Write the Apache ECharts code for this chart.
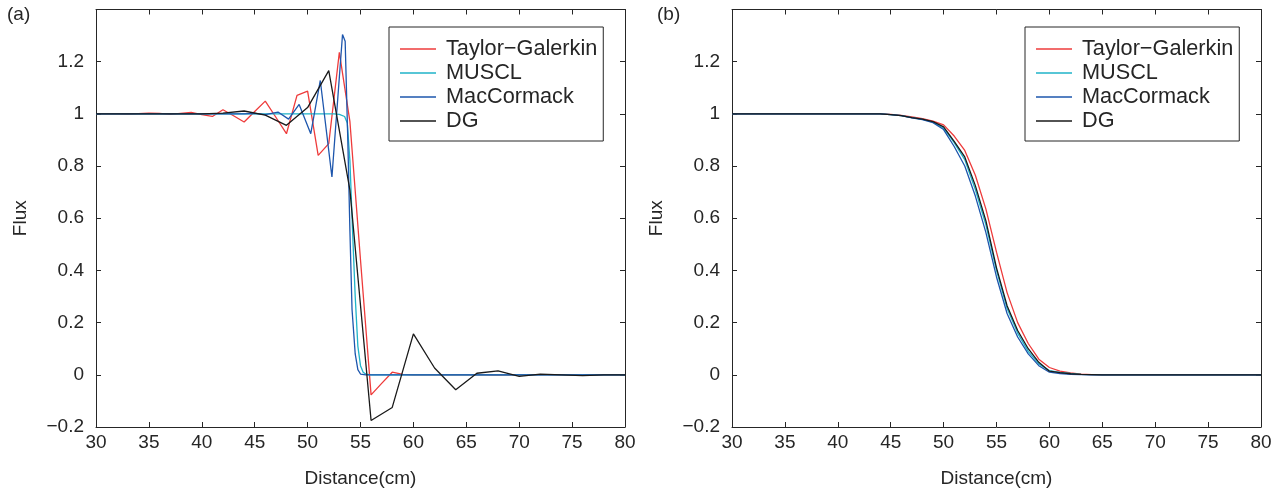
<!DOCTYPE html>
<html>
<head>
<meta charset="utf-8">
<script src="https://cdn.jsdelivr.net/npm/echarts@6/dist/echarts.min.js"></script>
<style>
  html, body { margin: 0; padding: 0; background: #ffffff; }
  #chart { width: 1283px; height: 494px; }
</style>
</head>
<body>
<div id="chart"></div>
<script>
// ---- Panel (a): shock front, sharp initial profile ----
const tgXA = [30,31,32,33,34,35,36,37,38,39,40,41,42,43,44,45,46,47,48,49,50,51,52,53,54,55,56,57,58,59,60,62,64,66,68,70,72,74,76,78,80];
const tgYA = [1.0,1.0,1.0,0.999,1.001,1.003,1.002,0.998,1.002,1.006,0.997,0.99,1.016,0.993,0.969,1.009,1.049,0.987,0.924,1.071,1.087,0.841,0.886,1.236,0.97,0.44,-0.077,-0.033,0.01,0.002,0.0,0.0,0.001,0.0,-0.001,0.0,0.0,0.0,0.0,0.0,0.0];

const muX = [30,35,40,45,50,52,52.5,53,53.5,53.75,54,54.25,54.5,54.75,55,55.25,55.5,56,60,65,70,75,80];
const muY = [1.0,1.0,1.0,1.0,1.0,1.0,1.0,0.998,0.99,0.965,0.82,0.55,0.3,0.11,0.035,0.01,0.003,0.0,0.0,0.0,0.0,0.0,0.0];

const mcX = [30,35,40,44,45,46,47.2,48.2,49.2,50.3,51.2,52.3,53.3,53.55,53.8,54.0,54.2,54.5,54.75,55,55.5,60,65,70,75,80];
const mcY = [1.0,1.0,1.0,1.0,1.002,0.997,1.007,0.98,1.036,0.924,1.128,0.758,1.304,1.278,0.9,0.55,0.25,0.08,0.02,0.003,0.0,0.0,0.0,0.0,0.0,0.0];

const dgXA = [30,32,34,36,38,40,42,44,46,48,50,52,54,56,58,60,62,64,66,68,70,72,74,76,78,80];
const dgYA = [1.0,1.0,1.0,1.0,1.0,1.0,1.003,1.011,0.995,0.956,1.024,1.166,0.708,-0.175,-0.125,0.157,0.026,-0.057,0.006,0.015,-0.006,0.003,0.0,-0.003,0.0,0.0];

// ---- Panel (b): smooth profile ----
const xB = [30,35,40,44,45,46,47,48,49,50,51,52,53,54,55,56,57,58,59,60,61,62,63,64,65,70,75,80];
const tgYB = [1.0,1.0,1.0,1.0,0.998,0.994,0.988,0.982,0.972,0.958,0.915,0.86,0.765,0.635,0.47,0.315,0.2,0.12,0.06,0.028,0.014,0.007,0.003,0.001,0.0,0.0,0.0,0.0];
const muYB = [1.0,1.0,1.0,1.0,0.997,0.993,0.986,0.979,0.968,0.945,0.89,0.825,0.71,0.575,0.4,0.255,0.16,0.09,0.042,0.016,0.009,0.005,0.002,0.001,0.0,0.0,0.0,0.0];
const mcYB = [1.0,1.0,1.0,1.0,0.997,0.993,0.985,0.978,0.966,0.94,0.875,0.8,0.685,0.545,0.375,0.235,0.145,0.08,0.035,0.01,0.005,0.002,0.001,0.0,0.0,0.0,0.0,0.0];
const dgYB = [1.0,1.0,1.0,1.0,0.997,0.993,0.986,0.98,0.97,0.95,0.895,0.835,0.725,0.59,0.41,0.265,0.17,0.1,0.048,0.014,0.008,0.004,0.002,0.001,0.0,0.0,0.0,0.0];

const seriesNames = ['Taylor\u2212Galerkin', 'MUSCL', 'MacCormack', 'DG'];
const seriesColors = ['#ee3b3b', '#1fb3c8', '#1d56ad', '#1a1a1a'];
const xTicks = { min: 30, max: 80, interval: 5 };
const yTicks = { min: -0.2, max: 1.4, interval: 0.2 };

const FONT = '"Liberation Sans", Arial, Helvetica, sans-serif';
const INK = '#262626';

function pairs(xs, ys) { return xs.map((x, i) => [x, ys[i]]); }

function fmtY(v) {
  const r = Math.round(v * 10) / 10;
  if (Math.abs(r - 1.4) < 1e-9) return '';
  if (r < 0) return '\u2212' + String(-r);
  return String(r);
}

const PLOT_W = 529, PLOT_H = 417.5, PLOT_TOP = 9.5;
const gridLefts = [96, 732];

const xAxes = [], yAxes = [];
gridLefts.forEach((_, g) => {
  const axLine = { show: true, onZero: false, lineStyle: { color: INK, width: 1 } };
  const tick = { show: true, inside: true, length: 5, lineStyle: { color: INK, width: 1 } };
  xAxes.push({
    gridIndex: g, type: 'value', position: 'bottom', ...xTicks,
    axisLine: axLine, axisTick: tick, splitLine: { show: false },
    axisLabel: { margin: 6, fontSize: 19, color: INK, fontFamily: FONT },
    name: 'Distance(cm)', nameLocation: 'middle', nameGap: 42,
    nameTextStyle: { fontSize: 19, color: INK, fontFamily: FONT }
  });
  xAxes.push({
    gridIndex: g, type: 'value', position: 'top', ...xTicks,
    axisLine: axLine, axisTick: tick, splitLine: { show: false },
    axisLabel: { show: false }
  });
  yAxes.push({
    gridIndex: g, type: 'value', position: 'left', ...yTicks,
    axisLine: axLine, axisTick: tick, splitLine: { show: false },
    axisLabel: { margin: 12, fontSize: 19, color: INK, fontFamily: FONT, formatter: fmtY },
    name: 'Flux', nameLocation: 'middle', nameGap: 66, nameRotate: 90,
    nameTextStyle: { fontSize: 19, color: INK, fontFamily: FONT }
  });
  yAxes.push({
    gridIndex: g, type: 'value', position: 'right', ...yTicks,
    axisLine: axLine, axisTick: tick, splitLine: { show: false },
    axisLabel: { show: false }
  });
});

const panelData = [
  [pairs(tgXA, tgYA), pairs(muX, muY), pairs(mcX, mcY), pairs(dgXA, dgYA)],
  [pairs(xB, tgYB), pairs(xB, muYB), pairs(xB, mcYB), pairs(xB, dgYB)]
];

const series = [];
panelData.forEach((set, g) => {
  set.forEach((data, k) => {
    series.push({
      name: seriesNames[k], type: 'line', data,
      xAxisIndex: g * 2, yAxisIndex: g * 2,
      showSymbol: false, smooth: false, silent: true,
      lineStyle: { color: seriesColors[k], width: 1.3 },
      itemStyle: { color: seriesColors[k] },
      z: 2 + k
    });
  });
});

const legends = gridLefts.map(left => ({
  left: left + 293, top: 27, orient: 'vertical',
  data: seriesNames, selectedMode: false,
  backgroundColor: '#ffffff',
  borderColor: INK, borderWidth: 1, borderRadius: 0,
  padding: [10, 6, 8, 11], itemGap: 0,
  icon: 'rect', itemWidth: 36, itemHeight: 1.3,
  textStyle: { fontSize: 21.7, lineHeight: 24, color: INK, fontFamily: FONT, padding: [0, 0, 0, 5] }
}));

const chart = echarts.init(document.getElementById('chart'), null, { renderer: 'canvas' });
chart.setOption({
  animation: false,
  backgroundColor: '#ffffff',
  grid: gridLefts.map(left => ({ left, top: PLOT_TOP, width: PLOT_W, height: PLOT_H, containLabel: false })),
  xAxis: xAxes,
  yAxis: yAxes,
  legend: legends,
  series,
  graphic: [
    { type: 'text', left: 7, top: 5, style: { text: '(a)', fontSize: 19, fill: INK, fontFamily: FONT } },
    { type: 'text', left: 657, top: 5, style: { text: '(b)', fontSize: 19, fill: INK, fontFamily: FONT } }
  ]
});
</script>
</body>
</html>
